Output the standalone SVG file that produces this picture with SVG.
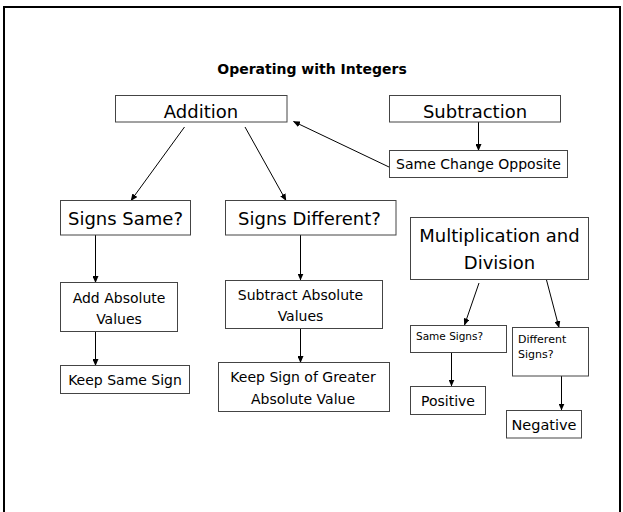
<svg xmlns="http://www.w3.org/2000/svg" width="623" height="512" viewBox="0 0 623 512">
<defs>
<marker id="ah" markerUnits="userSpaceOnUse" markerWidth="7" markerHeight="6" refX="6.5" refY="3" orient="auto">
<path d="M0,0 L7,3 L0,6 Z" fill="#000"/>
</marker>
<style>
.box{fill:#fff;stroke:#444;stroke-width:1}
.t{font-family:"DejaVu Sans",sans-serif;fill:#000;text-anchor:middle}
.tl{font-family:"DejaVu Sans",sans-serif;fill:#000}
.c{stroke:#000;stroke-width:1;fill:none;marker-end:url(#ah)}
</style>
</defs>
<rect x="0" y="0" width="623" height="512" fill="#fff"/>
<path d="M4,520 L4,7 L620,7 L620,520" fill="none" stroke="#000" stroke-width="2"/>
<text id="title" class="t" x="312" y="74" font-size="14" font-weight="bold">Operating with Integers</text>
<g id="connectors">
<line class="c" x1="478.5" y1="122" x2="478.5" y2="150.5"/>
<line class="c" x1="389" y1="167" x2="293.5" y2="121.5"/>
<line class="c" x1="184.5" y1="127" x2="131" y2="200.5"/>
<line class="c" x1="245" y1="127" x2="286" y2="200.5"/>
<line class="c" x1="95.5" y1="235" x2="95.5" y2="282.5"/>
<line class="c" x1="95.5" y1="331.5" x2="95.5" y2="365.5"/>
<line class="c" x1="300.5" y1="235" x2="300.5" y2="280"/>
<line class="c" x1="300.5" y1="328" x2="300.5" y2="362.5"/>
<line class="c" x1="479" y1="283" x2="464.5" y2="325"/>
<line class="c" x1="546.5" y1="280" x2="559" y2="327.5"/>
<line class="c" x1="451.5" y1="352" x2="451.5" y2="386"/>
<line class="c" x1="561.5" y1="376" x2="561.5" y2="410"/>
</g>
<g id="addition"><rect class="box" x="115.5" y="95.5" width="171.5" height="26.5"/><text class="t" x="201" y="118" font-size="18">Addition</text></g>
<g id="subtraction"><rect class="box" x="389.5" y="95.5" width="171" height="26.5"/><text class="t" x="475" y="118" font-size="18">Subtraction</text></g>
<g id="same-change-opposite"><rect class="box" x="389.5" y="150.5" width="178" height="27"/><text class="t" x="478.5" y="169" font-size="14">Same Change Opposite</text></g>
<g id="signs-same"><rect class="box" x="60.5" y="200.5" width="130" height="34.5"/><text class="t" x="125.5" y="225" font-size="18">Signs Same?</text></g>
<g id="signs-different"><rect class="box" x="225.5" y="200.5" width="170.5" height="34.5"/><text class="t" x="309.5" y="225" font-size="18">Signs Different?</text></g>
<g id="mult-div"><rect class="box" x="410.5" y="217.5" width="178" height="62"/><text class="t" x="499.5" y="242" font-size="18">Multiplication and</text><text class="t" x="499.5" y="269" font-size="18">Division</text></g>
<g id="add-abs"><rect class="box" x="60.5" y="282.5" width="117" height="49"/><text class="t" x="119" y="303" font-size="14">Add Absolute</text><text class="t" x="119" y="324" font-size="14">Values</text></g>
<g id="keep-same"><rect class="box" x="60.5" y="365.5" width="129" height="28"/><text class="t" x="125" y="385" font-size="14">Keep Same Sign</text></g>
<g id="sub-abs"><rect class="box" x="225.5" y="280.5" width="157" height="48"/><text class="t" x="300.5" y="300" font-size="14">Subtract Absolute</text><text class="t" x="300.5" y="321" font-size="14">Values</text></g>
<g id="keep-greater"><rect class="box" x="218.5" y="362.5" width="171" height="49"/><text class="t" x="303" y="382" font-size="14">Keep Sign of Greater</text><text class="t" x="303" y="404" font-size="14">Absolute Value</text></g>
<g id="same-signs"><rect class="box" x="410.5" y="325.5" width="96" height="27"/><text class="tl" x="416" y="340" font-size="10.5">Same Signs?</text></g>
<g id="different-signs"><rect class="box" x="512.5" y="327.5" width="76" height="48.5"/><text class="tl" x="518" y="343" font-size="11">Different</text><text class="tl" x="518" y="358" font-size="11">Signs?</text></g>
<g id="positive"><rect class="box" x="410.5" y="386.5" width="75" height="28"/><text class="t" x="448" y="406" font-size="14">Positive</text></g>
<g id="negative"><rect class="box" x="506.5" y="410.5" width="75" height="27.5"/><text class="t" x="544" y="430" font-size="14.5">Negative</text></g>
</svg>
